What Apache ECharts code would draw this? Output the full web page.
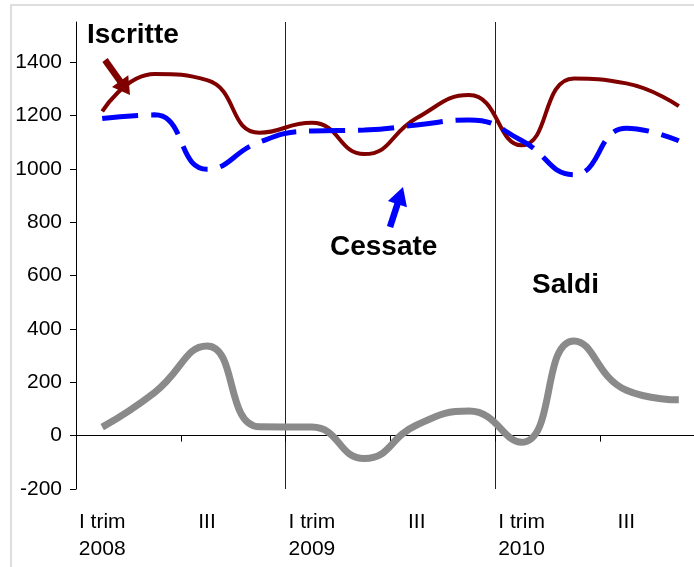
<!DOCTYPE html>
<html>
<head>
<meta charset="utf-8">
<script src="https://cdn.jsdelivr.net/npm/echarts@6/dist/echarts.min.js"></script>
<style>
html,body{margin:0;padding:0;background:#fff;overflow:hidden;}
#c{width:730px;height:567px;}
</style>
</head>
<body>
<div id="c"></div>
<script>
// Quarters 2008 I .. 2010 IV
var quarters = ['2008 I','2008 II','2008 III','2008 IV','2009 I','2009 II','2009 III','2009 IV','2010 I','2010 II','2010 III','2010 IV'];
var tickLabels = ['I trim\n2008','','III','','I trim\n2009','','III','','I trim\n2010','','III',''];
var iscritte = [1215, 1355, 1332, 1135, 1172, 1055, 1190, 1276, 1088, 1338, 1320, 1235];
var cessate  = [1188, 1202, 998, 1100, 1142, 1145, 1164, 1183, 1106, 978, 1152, 1105];
var saldi    = [32, 162, 336, 33, 32, -86, 40, 92, -25, 355, 170, 134];
var yTicks = [-200, 0, 200, 400, 600, 800, 1000, 1200, 1400];

var chart = echarts.init(document.getElementById('c'), null, {renderer: 'canvas'});
var font = 'Liberation Sans, Arial, sans-serif';

function arrow(x0, y0, x1, y1, headLen, headHalf, color, w) {
  var dx = x1 - x0, dy = y1 - y0, L = Math.sqrt(dx*dx + dy*dy);
  var ux = dx / L, uy = dy / L, px = -uy, py = ux;
  var bx = x1 - ux * headLen, by = y1 - uy * headLen;
  return [
    {type: 'line', shape: {x1: x0, y1: y0, x2: bx + ux*2, y2: by + uy*2}, style: {stroke: color, lineWidth: w}, z: 100},
    {type: 'polygon', shape: {points: [[x1, y1], [bx + px*headHalf, by + py*headHalf], [bx - px*headHalf, by - py*headHalf]]}, style: {fill: color}, z: 100}
  ];
}

var graphics = [
  {type: 'rect', shape: {x: 11, y: 5, width: 900, height: 900}, style: {fill: 'none', stroke: '#d4d4d4', lineWidth: 1.5}, z: 0, silent: true},
  {type: 'text', x: 87, y: 35, style: {text: 'Iscritte', font: 'bold 28px ' + font, fill: '#000', textVerticalAlign: 'middle'}, z: 100},
  {type: 'text', x: 330, y: 247, style: {text: 'Cessate', font: 'bold 28px ' + font, fill: '#000', textVerticalAlign: 'middle'}, z: 100},
  {type: 'text', x: 532, y: 285, style: {text: 'Saldi', font: 'bold 28px ' + font, fill: '#000', textVerticalAlign: 'middle'}, z: 100}
].concat(arrow(105, 60, 130, 95, 17, 10, '#800000', 6.5))
 .concat(arrow(390, 227, 403, 187, 18, 10, '#0000ff', 6.5));

chart.setOption({
  animation: false,
  backgroundColor: '#fff',
  grid: {left: 76, top: 22, right: 25, bottom: 78, containLabel: false},
  xAxis: [
    {
      type: 'category', data: quarters, boundaryGap: true, position: 'bottom',
      axisLine: {show: false, onZero: false},
      axisTick: {show: false},
      axisLabel: {
        interval: 0, color: '#000', fontSize: 21, fontFamily: font, lineHeight: 27, margin: 20,
        formatter: function (v, i) { return tickLabels[i]; }
      },
      splitLine: {show: true, interval: function (i) { return i % 4 === 0; }, lineStyle: {color: '#222', width: 1}}
    },
    {
      type: 'category', data: quarters, boundaryGap: true, position: 'bottom',
      axisLine: {show: true, onZero: true, lineStyle: {color: '#000', width: 1}},
      axisTick: {show: true, interval: function (i) { return i % 2 === 0; }, length: 6, lineStyle: {color: '#000'}},
      axisLabel: {show: false},
      splitLine: {show: false}
    }
  ],
  yAxis: {
    type: 'value', min: -200, max: 1550, interval: 200,
    axisLine: {show: true, lineStyle: {color: '#000', width: 1}},
    axisTick: {show: true, length: 6, lineStyle: {color: '#000'}, customValues: yTicks},
    axisLabel: {color: '#000', fontSize: 21, fontFamily: font, margin: 14, customValues: yTicks,
      formatter: function (v) { return v > 1400 ? '' : String(v); }},
    splitLine: {show: false}
  },
  series: [
    {name: 'Iscritte', type: 'line', xAxisIndex: 0, data: iscritte, smooth: 0.5, symbol: 'none',
      lineStyle: {color: '#800000', width: 4}, z: 3},
    {name: 'Cessate', type: 'line', xAxisIndex: 0, data: cessate, smooth: 0.5, symbol: 'none',
      lineStyle: {color: '#0000ff', width: 5, type: [36, 13], cap: 'butt'}, z: 4},
    {name: 'Saldi', type: 'line', xAxisIndex: 0, data: saldi, smooth: 0.5, symbol: 'none',
      lineStyle: {color: '#8a8a8a', width: 7}, z: 3}
  ],
  graphic: graphics
});
</script>
</body>
</html>
